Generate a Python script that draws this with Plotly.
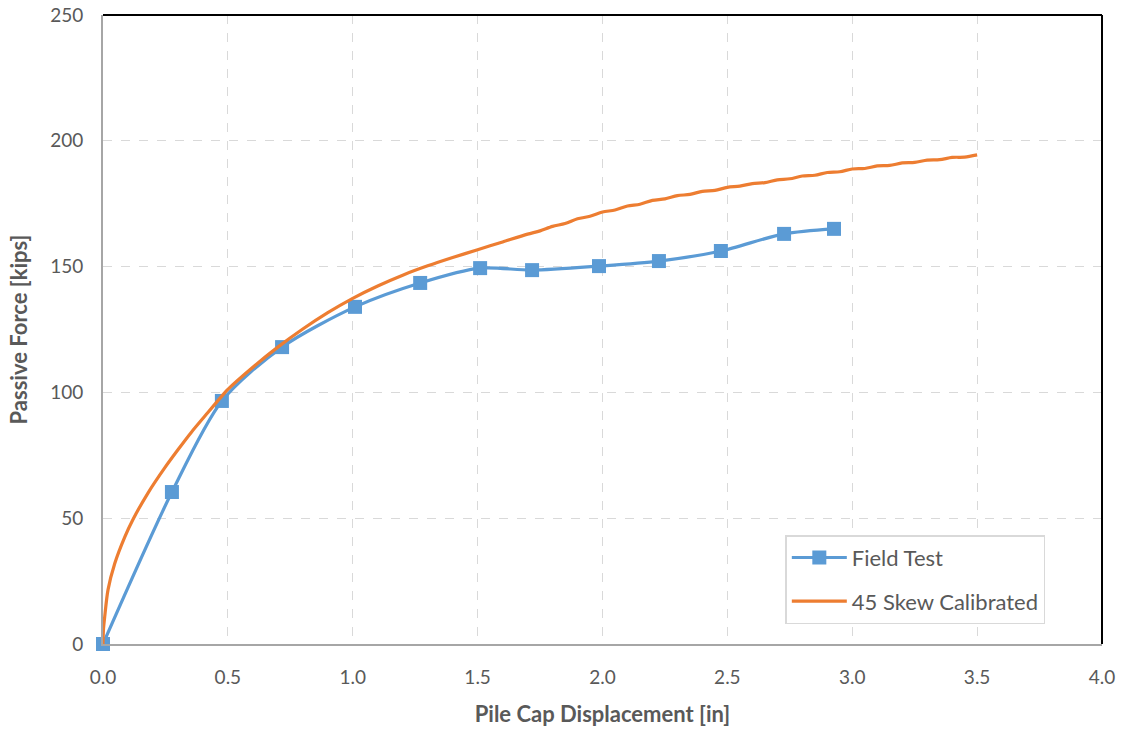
import plotly.graph_objects as go

# Field test data
field_x = [0.0, 0.276, 0.476, 0.717, 1.009, 1.27, 1.51, 1.718, 1.986, 2.226, 2.474, 2.727, 2.927]
field_y = [0.0, 60.4, 96.6, 118.0, 134.0, 143.5, 149.4, 148.6, 150.2, 152.2, 156.2, 163.0, 165.0]

# 45 Skew Calibrated model curve
calib_x = [0.0, 0.002, 0.007, 0.02, 0.047, 0.087, 0.12, 0.18, 0.247, 0.3, 0.354, 0.42, 0.48, 0.5,
           0.6, 0.7, 0.8, 0.9, 1.0, 1.1, 1.2, 1.3, 1.4, 1.5, 1.6, 1.7, 1.75, 1.8, 1.85,
           1.9, 1.95, 2.0, 2.05, 2.1, 2.15, 2.2, 2.25, 2.3, 2.35, 2.4, 2.45, 2.5, 2.55,
           2.6, 2.65, 2.7, 2.75, 2.8, 2.85, 2.9, 2.95, 3.0, 3.05, 3.1, 3.15, 3.2, 3.25,
           3.3, 3.35, 3.4, 3.45, 3.5]
calib_y = [0.0, 6.0, 11.0, 21.5, 32.0, 42.5, 49.5, 60.0, 70.0, 77.2, 84.2, 92.0, 99.0, 101.2,
           110.0, 118.0, 125.2, 131.7, 137.4, 142.3, 146.6, 150.3, 153.6, 156.7, 159.8, 162.9, 164.2, 166.0, 167.1,
           169.0, 170.0, 171.7, 172.5, 174.1, 174.8, 176.3, 176.9, 178.2, 178.7, 179.9, 180.3, 181.5, 182.0,
           183.0, 183.4, 184.5, 184.9, 186.0, 186.3, 187.4, 187.7, 188.8, 189.0, 190.0, 190.2, 191.2, 191.4,
           192.3, 192.5, 193.4, 193.5, 194.4]

x_ticks = [0.0, 0.5, 1.0, 1.5, 2.0, 2.5, 3.0, 3.5, 4.0]
y_ticks = [0, 50, 100, 150, 200, 250]

BLUE = "#5B9BD5"
ORANGE = "#ED7D31"
FONT = "Lato, 'Open Sans', sans-serif"
GREY_TXT = "#595959"

fig = go.Figure()
fig.add_trace(go.Scatter(
    x=field_x, y=field_y, name="Field Test", mode="lines+markers",
    line=dict(color=BLUE, width=3.2, shape="spline", smoothing=0.8),
    marker=dict(symbol="square", size=14, color=BLUE),
    legendgroup="a", cliponaxis=False,
))
fig.add_trace(go.Scatter(
    x=calib_x, y=calib_y, name="45 Skew Calibrated", mode="lines",
    line=dict(color=ORANGE, width=3.2, shape="spline", smoothing=0.8),
    legendgroup="b", cliponaxis=False,
))

grid = dict(showgrid=True, gridcolor="#D9D9D9", griddash="dash", gridwidth=1.3, zeroline=False,
            ticks="", automargin=False, tickfont=dict(family=FONT, size=19, color=GREY_TXT))

fig.update_xaxes(range=[0, 4], tickvals=x_ticks, ticktext=[f"{v:.1f}" for v in x_ticks],
                 showline=True, linecolor="#A6A6A6", linewidth=2,
                 title=dict(text="<b>Pile Cap Displacement [in]</b>",
                            font=dict(family=FONT, size=22, color=GREY_TXT), standoff=20),
                 ticklabelstandoff=15, **grid)
fig.update_yaxes(range=[0, 250], tickvals=y_ticks,
                 showline=True, linecolor="#A6A6A6", linewidth=2,
                 title=dict(text="<b>Passive Force [kips]</b>",
                            font=dict(family=FONT, size=22, color=GREY_TXT), standoff=16),
                 ticklabelstandoff=14, **grid)

fig.add_shape(type="line", xref="paper", yref="paper", x0=0, x1=1, y0=1, y1=1,
              line=dict(color="black", width=2))
fig.add_shape(type="line", xref="paper", yref="paper", x0=1, x1=1, y0=0, y1=1,
              line=dict(color="black", width=2))

fig.update_layout(
    width=1122, height=729,
    margin=dict(l=103, r=20, t=15, b=85, autoexpand=False),
    plot_bgcolor="white", paper_bgcolor="white",
    showlegend=True,
    legend=dict(x=0.683, y=0.173, xanchor="left", yanchor="top",
                bgcolor="white", bordercolor="#D9D9D9", borderwidth=1.5,
                font=dict(family=FONT, size=22, color=GREY_TXT),
                traceorder="grouped", tracegroupgap=12, itemwidth=55),
)

fig.write_html("out.html")
